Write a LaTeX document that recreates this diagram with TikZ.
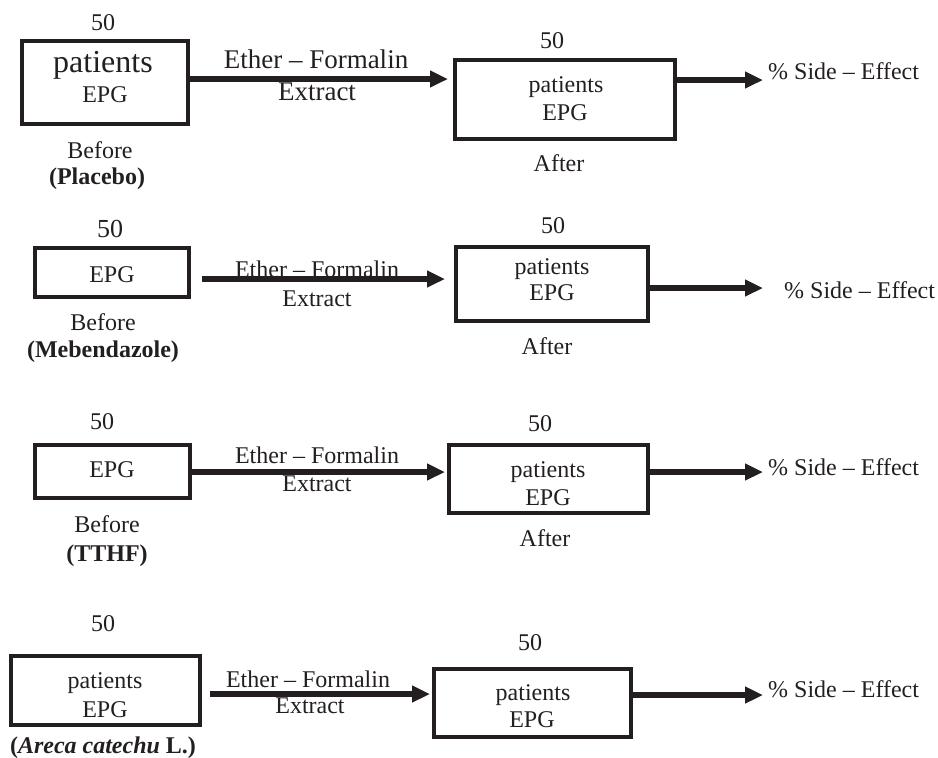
\documentclass[tikz,border=0pt]{standalone}
\usepackage{fontspec}
\setmainfont{Liberation Serif}
\usepackage{tikz}
\usepackage{xcolor}
\usetikzlibrary{
    arrows.meta,
    positioning
}
\definecolor{ink}{RGB}{35,31,32}
\tikzset{epgbox/.style={draw=ink, line width=4pt, inner sep=0pt}}
\tikzset{flow/.style={draw=ink, line width=6pt, -{Triangle[length=18pt, width=16pt]}}}
\tikzset{lbl/.style={inner sep=0pt, anchor=base, text=ink, font=\fontsize{24}{28}\selectfont}}

\begin{document}
\begin{tikzpicture}[x=1pt, y=-1pt]
                        \useasboundingbox (0, 0) rectangle (938, 758);

                        \node[epgbox, minimum width=166pt, minimum height=83pt] (b1) at (105, 82.5) {};
                        \node[epgbox, minimum width=220pt, minimum height=79pt] (a1) at (565, 99.5) {};
                        \node[epgbox, minimum width=154pt, minimum height=49pt] (b2) at (112, 272.5) {};
                        \node[epgbox, minimum width=192pt, minimum height=74pt] (a2) at (552, 284) {};
                        \node[epgbox, minimum width=155pt, minimum height=53pt] (b3) at (112.5, 471.5) {};
                        \node[epgbox, minimum width=199pt, minimum height=68pt] (a3) at (548.5, 479) {};
                        \node[epgbox, minimum width=189pt, minimum height=69pt] (b4) at (105.5, 690.5) {};
                        \node[epgbox, minimum width=197pt, minimum height=68pt] (a4) at (532.5, 703) {};

                        \node[lbl] (n1) at (103, 30) {50};
                        \node[lbl, font=\fontsize{32}{36}\selectfont] (p1) at (103, 72) {patients};
                        \node[lbl] (e1) at (105, 102) {EPG};
                        \node[lbl] (w1) at (100, 158) {Before};
                        \node[lbl] (d1) at (97, 184) {\textbf{(Placebo)}};
                        \node[lbl, font=\fontsize{27}{30}\selectfont] (x1) at (316, 68) {Ether -- Formalin};
                        \node[lbl, font=\fontsize{27}{30}\selectfont] (y1) at (317, 100) {Extract};
                        \node[lbl] (m1) at (552, 48) {50};
                        \node[lbl] (q1) at (566, 92) {patients};
                        \node[lbl] (g1) at (565, 120) {EPG};
                        \node[lbl] (f1) at (559, 171) {After};
                        \node[lbl, anchor=base west] (s1) at (768, 79) {\% Side -- Effect};

                        \node[lbl, font=\fontsize{26}{30}\selectfont] (n2) at (110, 237) {50};
                        \node[lbl] (e2) at (112, 282) {EPG};
                        \node[lbl] (w2) at (103, 330) {Before};
                        \node[lbl] (d2) at (103, 357) {\textbf{(Mebendazole)}};
                        \node[lbl] (x2) at (317, 277) {Ether -- Formalin};
                        \node[lbl] (y2) at (317, 306) {Extract};
                        \node[lbl] (m2) at (553, 233) {50};
                        \node[lbl] (q2) at (552, 274) {patients};
                        \node[lbl] (g2) at (552, 300) {EPG};
                        \node[lbl] (f2) at (547, 354) {After};
                        \node[lbl, anchor=base west] (s2) at (784, 298) {\% Side -- Effect};

                        \node[lbl] (n3) at (102, 429) {50};
                        \node[lbl] (e3) at (112, 477) {EPG};
                        \node[lbl] (w3) at (107, 532) {Before};
                        \node[lbl] (d3) at (107, 561) {\textbf{(TTHF)}};
                        \node[lbl] (x3) at (317, 463) {Ether -- Formalin};
                        \node[lbl] (y3) at (317, 491) {Extract};
                        \node[lbl] (m3) at (540, 431) {50};
                        \node[lbl] (q3) at (548, 477) {patients};
                        \node[lbl] (g3) at (548, 505) {EPG};
                        \node[lbl] (f3) at (545, 546) {After};
                        \node[lbl, anchor=base west] (s3) at (768, 475) {\% Side -- Effect};

                        \node[lbl] (n4) at (103, 631) {50};
                        \node[lbl] (p4) at (105, 688) {patients};
                        \node[lbl] (e4) at (105, 717) {EPG};
                        \node[lbl] (d4) at (103, 753) {\textbf{(\textit{Areca catechu} L.)}};
                        \node[lbl] (x4) at (308, 687) {Ether -- Formalin};
                        \node[lbl] (y4) at (310, 713) {Extract};
                        \node[lbl] (m4) at (530, 650) {50};
                        \node[lbl] (q4) at (533, 700) {patients};
                        \node[lbl] (g4) at (532, 727) {EPG};
                        \node[lbl, anchor=base west] (s4) at (768, 697) {\% Side -- Effect};

                        \coordinate (r1) at (0, 79);
                        \coordinate (r2) at (0, 279);
                        \coordinate (r3) at (0, 472);
                        \coordinate (r4) at (0, 694);
                        \coordinate (t1) at (763, 80);
                        \coordinate (t2) at (763, 288);
                        \coordinate (t3) at (763, 472);
                        \coordinate (t4) at (763, 695);

                        \draw[flow, shorten >=5pt] (b1.east |- r1) -- (a1.west |- r1);
                        \draw[flow, shorten <=11pt, shorten >=9pt] (b2.east |- r2) -- (a2.west |- r2);
                        \draw[flow, shorten >=2pt] (b3.east |- r3) -- (a3.west |- r3);
                        \draw[flow, shorten <=8pt, shorten >=2pt] (b4.east |- r4) -- (a4.west |- r4);

                        \draw[flow] (a1.east |- t1) -- (t1);
                        \draw[flow] (a2.east |- t2) -- (t2);
                        \draw[flow] (a3.east |- t3) -- (t3);
                        \draw[flow] (a4.east |- t4) -- (t4);
                    \end{tikzpicture}
\end{document}
